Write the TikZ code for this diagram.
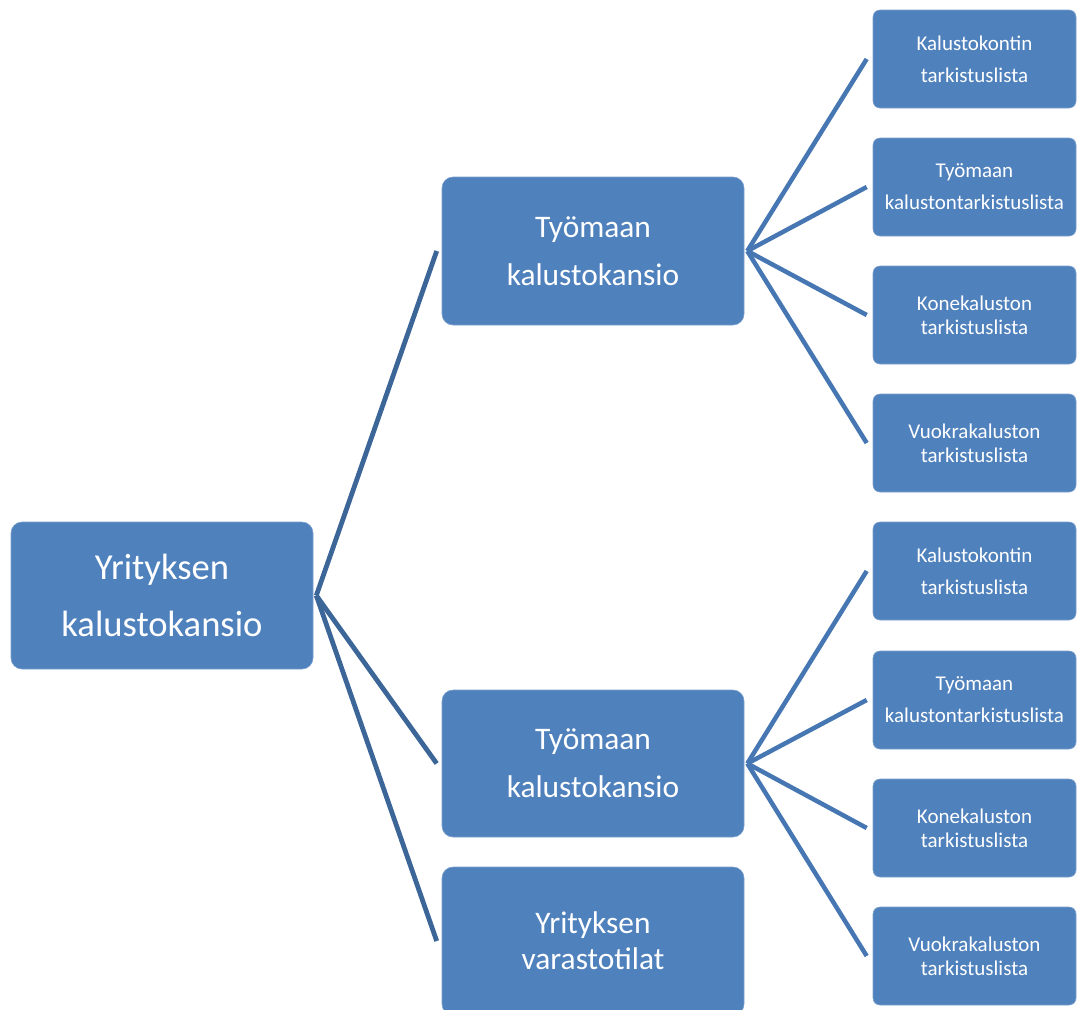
\documentclass[tikz,border=0pt]{standalone}
\usepackage{fontspec}
\setmainfont{Carlito}
\definecolor{boxblue}{HTML}{4F81BD}
\definecolor{rootline}{HTML}{3D6698}
\definecolor{leafline}{HTML}{4677B2}
\begin{document}
\begin{tikzpicture}[x=1pt,y=-1pt,
  box/.style={fill=boxblue,draw=white!25!boxblue,line width=0.6pt,inner sep=0pt,align=center,text=white},
  bigbox/.style={box,minimum width=302pt,minimum height=148pt,rounded corners=11pt},
  leafbox/.style={box,minimum width=203pt,minimum height=98pt,rounded corners=7pt},
  rootconn/.style={draw=rootline,line width=4.8pt},
  leafconn/.style={draw=leafline,line width=4.5pt},
  fA/.style={font=\fontsize{36.6}{57}\selectfont},
  fB/.style={font=\fontsize{31.4}{48}\selectfont},
  fBs/.style={font=\fontsize{31.4}{36}\selectfont},
  fC/.style={font=\fontsize{21}{32}\selectfont},
  fCs/.style={font=\fontsize{21}{24}\selectfont}]
\useasboundingbox (0,0) rectangle (1077,1010);
% nodes
\node[bigbox,fA,minimum height=147pt] (root) at (162,595.5) {Yrityksen\\kalustokansio};
\node[bigbox,fB] (m1) at (593,251) {Työmaan\\kalustokansio};
\node[bigbox,fB,minimum height=147pt] (m2) at (593,763.5) {Työmaan\\kalustokansio};
\node[bigbox,fBs] (m3) at (593,941) {Yrityksen\\varastotilat};
\node[leafbox,fC]  (a1) at (974.5,59)  {Kalustokontin\\tarkistuslista};
\node[leafbox,fC]  (a2) at (974.5,187) {Työmaan\\kalustontarkistuslista};
\node[leafbox,fCs] (a3) at (974.5,315) {Konekaluston\\tarkistuslista};
\node[leafbox,fCs] (a4) at (974.5,443) {Vuokrakaluston\\tarkistuslista};
\node[leafbox,fC]  (b1) at (974.5,571) {Kalustokontin\\tarkistuslista};
\node[leafbox,fC]  (b2) at (974.5,700) {Työmaan\\kalustontarkistuslista};
\node[leafbox,fCs] (b3) at (974.5,828) {Konekaluston\\tarkistuslista};
\node[leafbox,fCs] (b4) at (974.5,956) {Vuokrakaluston\\tarkistuslista};
% connectors
\coordinate (rj) at ([xshift=3pt]root.east);
\foreach \t in {m1,m2,m3}
  \draw[rootconn] (rj) -- ([xshift=-5pt]\t.west);
\coordinate (j1) at ([xshift=3pt]m1.east);
\coordinate (j2) at ([xshift=3pt]m2.east);
\foreach \t in {a1,a2,a3,a4}
  \draw[leafconn] (j1) -- ([xshift=-6pt]\t.west);
\foreach \t in {b1,b2,b3,b4}
  \draw[leafconn] (j2) -- ([xshift=-6pt]\t.west);
\end{tikzpicture}
\end{document}
